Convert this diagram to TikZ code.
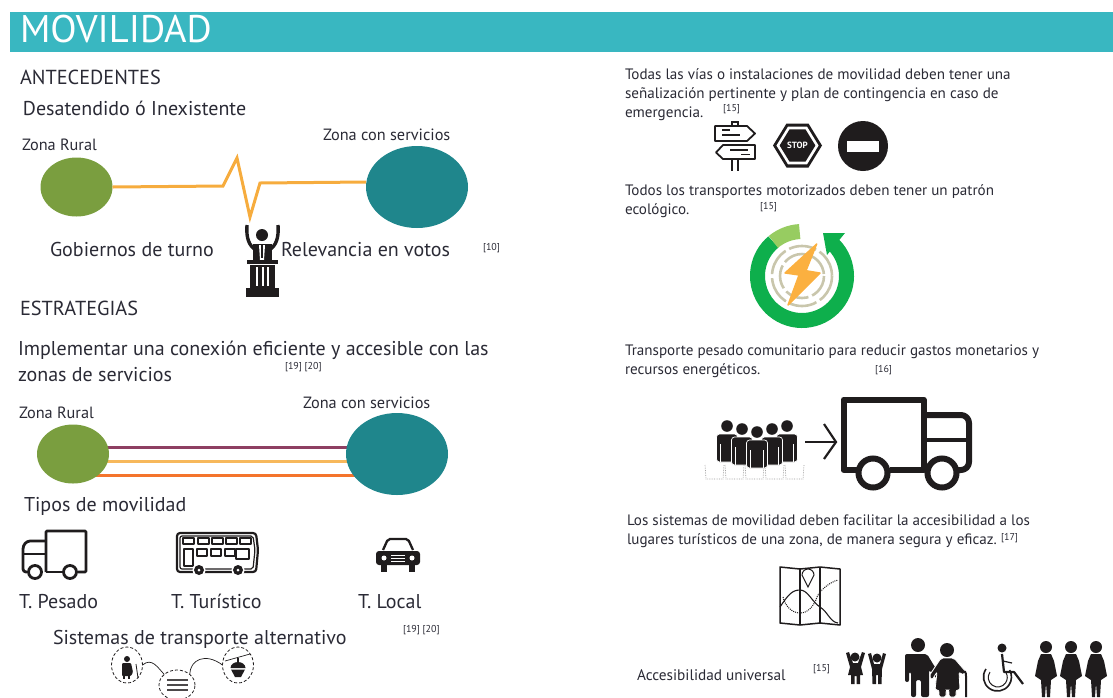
\documentclass[tikz,border=0pt]{standalone}
\usepackage{fontspec}
\setmainfont{PT Sans}
\usetikzlibrary{calc,backgrounds,shapes.geometric}
\definecolor{barc}{HTML}{39B7C1}
\definecolor{inkc}{HTML}{2A2A35}
\definecolor{ruralc}{HTML}{7A9E3F}
\definecolor{servc}{HTML}{1F868C}
\definecolor{lineo}{HTML}{F6AC3E}
\definecolor{linep}{HTML}{8E3F62}
\definecolor{liner}{HTML}{F4742C}
\definecolor{ecog}{HTML}{0EAF4C}
\definecolor{ecol}{HTML}{97CC61}
\definecolor{ecot}{HTML}{C9C6AC}
\definecolor{ecob}{HTML}{FBB040}
\definecolor{iconk}{HTML}{1F1C1D}
\tikzset{
  lbl/.style={anchor=base west,inner sep=0pt,outer sep=0pt,text=inkc},
  para/.style={anchor=north west,inner sep=0pt,outer sep=0pt,text=inkc,align=left},
  titletext/.style={lbl,text=white,font=\fontsize{38.5}{38.5}\selectfont},
  headtext/.style={lbl,font=\fontsize{20.3}{20.3}\selectfont},
  bodytext/.style={lbl,font=\fontsize{20}{20}\selectfont},
  bodypara/.style={para,font=\fontsize{20}{26}\selectfont},
  zonetext/.style={lbl,font=\fontsize{16.3}{16.3}\selectfont},
  sidepara/.style={para,font=\fontsize{15.1}{18.7}\selectfont},
  reftext/.style={lbl,font=\fontsize{10}{10}\selectfont},
  blob/.style={shape=ellipse,inner sep=0pt,outer sep=0pt},
  ruralblob/.style={blob,fill=ruralc,minimum width=72pt,minimum height=59pt},
  servblob/.style={blob,fill=servc,minimum width=102pt,minimum height=82pt},
  zone/.style={line width=3pt},
  iconline/.style={draw=iconk,line width=2.8pt,line join=round},
  iconthin/.style={draw=iconk,line width=1.2pt,line join=round},
  dashring/.style={blob,draw=iconk,line width=.8pt,densely dashed}
}
\newcommand{\personicon}[2]{% x, y of head
  \begin{scope}[shift={(#1,#2)}]
    \fill[iconk] (0,0) circle (5.8);
    \filldraw[fill=iconk,draw=white,line width=.7pt,rounded corners=3pt] (-10.5,8) rectangle (10.5,36);
    \fill[white] (-7,18) rectangle (-6.3,36);
    \fill[white] (6.3,18) rectangle (7,36);
  \end{scope}}
\newcommand{\womanicon}[2]{% x, y of head
  \begin{scope}[shift={(#1,#2)}]
    \fill[iconk] (0,0) circle (6);
    \fill[iconk] (-5,7) -- (5,7) -- (8,14) -- (11,29) -- (5,33) -- (4,50) -- (1,50) -- (0,36) -- (-1,50) -- (-4,50) -- (-5,33) -- (-11,29) -- (-8,14) -- cycle;
  \end{scope}}
\begin{document}
\begin{tikzpicture}[x=1pt,y=-1pt]
\useasboundingbox (0,0) rectangle (1113,697);
\fill[barc] (10,12) rectangle (1113,52);
\node[titletext] (title) at (20,42) {MOVILIDAD};

% ---- Antecedentes
\node[headtext] (ant) at (20,84) {ANTECEDENTES};
\node[bodytext] (des) at (23,115) {Desatendido ó Inexistente};
\node[zonetext] (zr1) at (22,150) {Zona Rural};
\node[zonetext] (zs1) at (323,140) {Zona con servicios};
\node[ruralblob] (g1) at (76.5,187) {};
\node[servblob] (t1) at (417,187) {};
\coordinate (z1) at (223,186);
\coordinate (z2) at (237,158);
\coordinate (z3) at (250,217);
\coordinate (z4) at (260,183);
\draw[lineo,zone,line join=miter] (g1.east) -- (z1) -- (z2) -- (z3) -- (z4) -- ($(t1.west)+(0,-5)$);
\node[bodytext] (gob) at (50,256) {Gobiernos de turno};
\node[bodytext] (rel) at (281,256) {Relevancia en votos};
\node[reftext] (r10) at (483,250) {[10]};

% orator
\draw[iconk,line width=3.4pt] (247,225) .. controls (246,238) and (249,246) .. (256,250);
\draw[iconk,line width=3.4pt] (278,225) .. controls (279,238) and (276,246) .. (269,250);
\fill[iconk] (262,235) circle (6);
\fill[iconk] (253,244) rectangle (272,261);
\fill[white] (259,245) -- (265,245) -- (264,260) -- (260,260) -- cycle;
\fill[iconk] (261,245) rectangle (263,258);
\fill[iconk] (247,260) rectangle (278,264);
\fill[iconk] (250,265) rectangle (275,288);
\foreach \sx in {256,261.5,267} \fill[white] (\sx,267) rectangle ++(2,19);
\fill[iconk] (246,288) rectangle (279,297);

% ---- Estrategias
\node[headtext] (est) at (20,315) {ESTRATEGIAS};
\node[bodypara] (imp) at (18,341) {Implementar una conexión eficiente y accesible con las\\zonas de servicios};
\node[reftext] (r1920a) at (285,369) {[19] [20]};
\node[zonetext] (zr2) at (19,418) {Zona Rural};
\node[zonetext] (zs2) at (303,408) {Zona con servicios};
\node[ruralblob] (g2) at (73,454) {};
\node[servblob] (t2) at (397,454) {};
\begin{scope}[on background layer]
  \draw[linep,zone] ($(g2.center)+(0,-7)$) -- ($(t2.center)+(0,-7)$);
  \draw[lineo!85!white,zone] ($(g2.center)+(0,7)$) -- ($(t2.center)+(0,7)$);
  \draw[liner,zone] ($(g2.center)+(0,21)$) -- ($(t2.center)+(0,21)$);
\end{scope}
\node[bodytext] (tip) at (24,511) {Tipos de movilidad};

% small truck
\draw[iconline,rounded corners=1pt] (46,572) -- (46,531) -- (86,531) -- (86,572) -- (78,572);
\draw[iconline] (62,572) -- (46,572);
\draw[iconline,rounded corners=3pt] (46,541) -- (27,541) -- (23,546) -- (23,572) -- (27,572);
\draw[iconline] (23,554) -- (46,554);
\draw[iconline,fill=white] (35,572) circle (6.5);
\draw[iconline,fill=white] (70,572) circle (6.5);

% bus
\draw[iconline,line width=2.2pt,rounded corners=3pt] (177,533) -- (256,533) -- (258,550) -- (256,572) -- (177,572) -- cycle;
\draw[iconthin,rounded corners=2pt] (180,536) -- (253,536) -- (255,550) -- (253,569) -- (180,569) -- cycle;
\foreach \bx in {183,198,212,226,240} \draw[iconthin] (\bx,538) rectangle ++(11,6);
\draw[iconthin] (184,549) rectangle (193,566);
\foreach \bx in {197,211,225} \draw[iconthin] (\bx,549) rectangle ++(10,7);
\draw[iconthin] (236,549) rectangle (249,559);
\foreach \bx in {199,238} {\fill[white] (\bx,570) circle (6.5); \fill[iconk] (\bx,570) circle (5); \fill[white] (\bx,570) circle (1.5);}

% car
\draw[iconk,line width=2.3pt,rounded corners=2pt] (383,550) -- (388,539) -- (408,539) -- (413,550);
\fill[iconk,rounded corners=3pt] (376,551) rectangle (420,565);
\fill[iconk] (381,565) rectangle (387,572);
\fill[iconk] (409,565) rectangle (415,572);
\fill[white] (384,558) circle (2.5);
\fill[white] (412,558) circle (2.5);
\fill[white] (391,555) rectangle (405,556.3);
\fill[white] (391,558) rectangle (405,559.3);
\fill[white] (391,561) rectangle (405,562.3);

\node[bodytext] (tp) at (19,608) {T. Pesado};
\node[bodytext] (tt) at (171,608) {T. Turístico};
\node[bodytext] (tl) at (358,608) {T. Local};
\node[bodytext] (sis) at (53,644) {Sistemas de transporte alternativo};
\node[reftext] (r1920b) at (403,632) {[19] [20]};

% alternative transport
\node[dashring,minimum width=31pt,minimum height=36pt] (alt1) at (127,665) {};
\node[dashring,minimum width=36pt,minimum height=30pt] (alt2) at (177,685) {};
\node[dashring,minimum width=31pt,minimum height=36pt] (alt3) at (238,665) {};
\draw[iconk,line width=.7pt] (alt1.east) .. controls (152,657) and (158,668) .. (alt2.north west);
\draw[iconk,line width=.7pt] (alt2.north east) .. controls (190,660) and (205,652) .. (alt3.west);
\fill[iconk] (127,659) circle (3);
\fill[iconk,rounded corners=1pt] (122,663) -- (131,663) -- (133,672) -- (131,676) -- (122,676) -- cycle;
\draw[iconk,line width=.8pt] (136,664) -- (138,678);
\draw[iconk,line width=1.2pt] (124,676) -- (124,679) (129,676) -- (129,679);
\foreach \ay in {679,684,689} \fill[iconk!80] (167,\ay) rectangle (188,\ay+1.6);
\draw[iconk,line width=.7pt] (225,661) -- (250,654);
\fill[iconk] (230.5,668) arc (180:360:7.5 and 6) -- cycle;
\fill[iconk] (231,669.5) -- (245,669.5) -- (241,677) -- (235,677) -- cycle;
\fill[iconk] (237,658) rectangle (239,663);

% ---- Right column
\node[sidepara] (p1) at (625,69) {Todas las vías o instalaciones de movilidad deben tener una\\señalización pertinente y plan de contingencia en caso de\\emergencia.};
\node[reftext] (r15a) at (723,111) {[15]};

% signpost
\draw[iconk,line width=1.4pt] (732,122) rectangle (738,126);
\draw[iconk,line width=1.4pt] (732,159) -- (732,171) (738,159) -- (738,171);
\draw[iconk,line width=1.8pt,line join=round] (715,126) -- (747,126) -- (755,133.5) -- (747,141) -- (715,141) -- cycle;
\draw[iconk,line width=1.8pt,line join=round] (755,145) -- (723,145) -- (716,152.5) -- (723,159) -- (755,159) -- cycle;
\draw[iconk,line width=1.2pt] (722,130) -- (730,130) (722,135) -- (740,135);
\draw[iconk,line width=1.2pt] (730,150) -- (748,150) (741,154.5) -- (750,154.5);

% stop sign
\foreach \sc/\cc in {1/iconk,.86/white,.73/iconk}
  \fill[\cc,shift={(797.5,145.5)},scale=\sc] (-24.5,0) -- (-11,-22) -- (11,-22) -- (24.5,0) -- (11,22) -- (-11,22) -- cycle;
\node[inner sep=0pt,text=white,font=\bfseries\fontsize{9}{9}\selectfont] (stop) at (797.5,145.5) {STOP};

% no entry
\fill[iconk] (863,146) circle (25);
\fill[white] (847,141) rectangle (879,152);

\node[sidepara] (p2) at (625,185) {Todos los transportes motorizados deben tener un patrón\\ecológico.};
\node[reftext] (r15b) at (760,209) {[15]};

% eco icon
\begin{scope}[shift={(802,276)}]
  \draw[ecog,line width=15pt] (-50:44.5) arc (-50:230:44.5);
  \draw[ecol,line width=15pt] (-130:44.5) arc (-130:-93:44.5);
  \fill[ecog] (21,-43) -- (43,-43) -- (25,-21) -- cycle;
  \draw[ecot,line width=2.6pt,dash pattern=on 28pt off 4pt] (0,0) circle (30);
  \draw[ecot,line width=2.6pt,dash pattern=on 24pt off 4pt] (0,0) circle (22);
  \fill[ecob,line join=round,draw=ecob,line width=1.4pt] (14.7,-32) -- (-17,-3) -- (-3,-1) -- (-14,29) -- (18,-3) -- (4,-5.3) -- cycle;
\end{scope}

\node[sidepara] (p3) at (625,345) {Transporte pesado comunitario para reducir gastos monetarios y\\recursos energéticos.};
\node[reftext] (r16) at (875,372) {[16]};

% people
\foreach \lx in {705,725,745,765,785} \draw[iconk!45,line width=.7pt,densely dotted] (\lx,465) -- (\lx+1,479) -- (\lx+18,479) -- (\lx+19,465);
\personicon{727}{426}
\personicon{787}{426}
\personicon{742}{429}
\personicon{772}{429}
\personicon{757}{432}
\coordinate (ars) at (805,442);
\coordinate (are) at (836,442);
\draw[iconk,line width=2.2pt] (ars) -- (are);
\draw[iconk,line width=2.2pt] (824,424) -- (are) -- (824,459);

% large truck
\draw[iconk,line width=6pt,line join=round] (860,470) -- (843.5,470) -- (843.5,399.5) -- (923.5,399.5) -- (923.5,470) -- (890,470);
\draw[iconk,line width=6pt,line join=round,rounded corners=8pt] (923.5,415) -- (969,415) -- (969,470) -- (955,470);
\draw[iconk,line width=4.5pt] (923.5,440) -- (969,440);
\draw[iconk,line width=6pt,fill=white] (873,473) circle (14.5);
\draw[iconk,line width=6pt,fill=white] (942,473) circle (14.5);

\node[sidepara] (p4) at (627,515) {Los sistemas de movilidad deben facilitar la accesibilidad a los\\lugares turísticos de una zona, de manera segura y eficaz.};
\node[reftext] (r17) at (1001,540) {[17]};

% map
\draw[iconk,line width=1.5pt,line join=round] (780,567) -- (800,569) -- (820,567) -- (840,569) -- (840,625) -- (820,623) -- (800,625) -- (780,623) -- cycle;
\draw[iconk,line width=1.4pt] (800,569) -- (800,625) (820,567) -- (820,623);
\draw[iconk,line width=1.1pt] (780,607) .. controls (788,595) and (792,590) .. (800,590) .. controls (808,590) and (812,602) .. (820,607) .. controls (828,612) and (830,622) .. (838,623);
\draw[iconk,line width=1pt,densely dotted] (783,597) .. controls (785,606) and (792,613) .. (800,613) .. controls (808,613) and (814,606) .. (817,597) .. controls (820,590) and (830,582) .. (838,580);
\draw[iconk,line width=1pt] (808,587) -- (802,575) arc (180:360:6) -- cycle;

\node[lbl,font=\fontsize{15.3}{15.3}\selectfont] (acc) at (637,680) {Accesibilidad universal};
\node[reftext] (r15c) at (813,671) {[15]};

% children
\fill[iconk] (855,657) circle (4.5);
\fill[iconk] (846,653) -- (849,652) -- (853,663) -- (858,663) -- (862,652) -- (865,653) -- (861,667) -- (863,675) -- (860,675) -- (860,684) -- (856.5,684) -- (856.5,676) -- (854.5,676) -- (854.5,684) -- (851,684) -- (851,675) -- (848,675) -- (850,667) -- cycle;
\fill[iconk] (877,658) circle (4.5);
\fill[iconk] (868,654) -- (871,653) -- (874,664) -- (880,664) -- (883,653) -- (886,654) -- (882,669) -- (881.5,684) -- (878,684) -- (878,675) -- (876,675) -- (876,684) -- (872.5,684) -- (872,669) -- cycle;

% elderly couple
\fill[iconk] (918,645) circle (7);
\fill[iconk,rounded corners=2pt] (905,654) -- (927,654) -- (933,664) -- (941,676) -- (938,680) -- (929,670) -- (929,697) -- (921,697) -- (921,680) -- (916,680) -- (916,697) -- (911,697) -- (911,672) -- (909,672) -- (909,682) -- (905,682) -- cycle;
\fill[iconk] (947,650) circle (7);
\filldraw[fill=iconk,draw=white,line width=.8pt,rounded corners=2pt] (941,658) -- (954,658) -- (966,672) -- (963,675) -- (959,672) -- (960,690) -- (956,690) -- (956,697) -- (949,697) -- (949,690) -- (946,690) -- (946,697) -- (939,697) -- (939,690) -- (935,690) -- (937,672) -- (932,680) -- (929,676) -- cycle;
\draw[iconk,line width=2pt] (962,673) .. controls (965,670) and (966,672) .. (966,676) -- (966,697);

% wheelchair
\fill[iconk] (1002,648) circle (4.5);
\draw[iconk,line width=1.6pt] (986,669) arc (-145:-390:14);
\draw[iconk,line width=1pt] (990,672) arc (-145:-390:9.5);
\draw[iconk,line width=2.2pt,line join=round] (1002,654) -- (1004,672) -- (1014,672) -- (1023,684);
\draw[iconk,line width=1.2pt] (1003,661) -- (1012,663);

% women
\womanicon{1046}{647}
\womanicon{1071}{647}
\womanicon{1096}{647}
\end{tikzpicture}
\end{document}
